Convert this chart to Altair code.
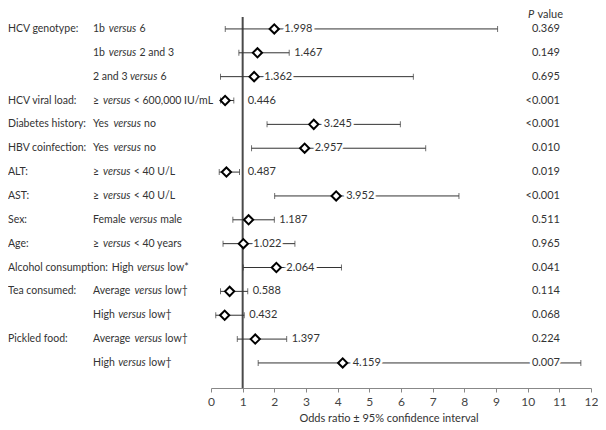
import altair as alt
import pandas as pd

# ---------------- data ----------------
rows = list(range(1, 16))
groups = ["HCV genotype:", "", "", "HCV viral load:", "Diabetes history:",
          "HBV coinfection:", "ALT:", "AST:", "Sex:", "Age:",
          "Alcohol consumption:", "Tea consumed:", "", "Pickled food:", ""]
prefix = ["1b", "1b", "2 and 3", "≥", "Yes", "Yes", "≥", "≥", "Female", "≥",
          "High", "Average", "High", "Average", "High"]
suffix = ["6", "2 and 3", "6", "< 600,000 IU/mL", "no", "no", "< 40 U/L",
          "< 40 U/L", "male", "< 40 years", "low*", "low†", "low†", "low†", "low†"]
odds = [1.998, 1.467, 1.362, 0.446, 3.245, 2.957, 0.487, 3.952, 1.187, 1.022,
        2.064, 0.588, 0.432, 1.397, 4.159]
ci_lo = [0.45, 0.88, 0.30, 0.30, 1.77, 1.28, 0.26, 2.01, 0.69, 0.38,
         1.02, 0.30, 0.15, 0.83, 1.49]
ci_hi = [9.05, 2.47, 6.39, 0.72, 5.98, 6.78, 0.90, 7.83, 2.00, 2.65,
         4.12, 1.16, 1.05, 2.39, 11.68]
pvals = ["0.369", "0.149", "0.695", "<0.001", "<0.001", "0.010", "0.019",
         "<0.001", "0.511", "0.965", "0.041", "0.114", "0.068", "0.224", "0.007"]
x_ticks = list(range(0, 13))

# ---------------- layout ----------------
FONT = "Lato"
FS = 11      # numbers
LFS = 10.5   # left-hand labels
W, H = 380, 371
PPU = W / 12.0  # pixels per x unit
TXT = "#333333"

# approximate Lato advance widths (em)
_w = {' ': .193, ',': .23, '<': .58, '≥': .58, '/': .36, '*': .42, '†': .5, ':': .23,
      'a': .487, 'b': .55, 'c': .46, 'd': .55, 'e': .515, 'f': .32, 'g': .5, 'h': .55,
      'i': .23, 'k': .5, 'l': .23, 'm': .83, 'n': .55, 'o': .55, 'p': .55, 'r': .37,
      's': .42, 't': .35, 'u': .55, 'v': .5, 'y': .5, 'A': .68, 'C': .66, 'F': .53,
      'H': .74, 'I': .28, 'L': .47, 'U': .7, 'V': .68, 'Y': .63}


def tw(s, size=LFS):
    return sum(_w.get(c, .58) for c in s) * size


SUB_X = -118.0      # px, relative to plot left
GROUP_X = -203.0
GAP = 4.0           # px between words
VERSUS_W = tw("versus") - 2.5

df = pd.DataFrame({"row": rows, "group": groups, "pre": prefix, "suf": suffix,
                   "odds": odds, "lo": ci_lo, "hi": ci_hi, "p": pvals})

base_px = []
for g in groups:
    if g == "Alcohol consumption:":
        base_px.append(GROUP_X + tw(g) + GAP + 2.5)
    else:
        base_px.append(SUB_X)
df["pre_x"] = [b / PPU for b in base_px]
df["vs_x"] = [(b + tw(p) + GAP) / PPU for b, p in zip(base_px, prefix)]
df["suf_x"] = [(b + tw(p) + GAP + VERSUS_W + GAP) / PPU for b, p in zip(base_px, prefix)]
df["grp_x"] = GROUP_X / PPU
df["near"] = (df["hi"] - df["odds"]) < 1.25
df["anchor"] = [max(h, 1.0) if n else o for h, o, n in zip(df["hi"], df["odds"], df["near"])]

xs = alt.Scale(domain=[0, 12], nice=False, zero=False)
ys = alt.Scale(domain=[0.5, 16.05], reverse=True, nice=False, zero=False)
AX = alt.Axis(values=x_ticks, title=None, grid=False, format="d",
              labelFont=FONT, labelFontSize=12, labelColor="#444",
              domainColor="#888", tickColor="#888", tickSize=4,
              labelPadding=4, labelFlush=False, labelOverlap=False)


def X(field):
    return alt.X(field, scale=xs, axis=AX)


base = alt.Chart(df)
Y = alt.Y("row:Q", scale=ys, axis=None)

ref = alt.Chart(pd.DataFrame({"x": [1]})).mark_rule(color="#4a4a4a", strokeWidth=2).encode(
    x=X("x:Q"))

ci = base.mark_rule(color="#333", strokeWidth=1).encode(x=X("lo:Q"), x2="hi:Q", y=Y)
cap_lo = base.mark_tick(orient="vertical", size=6, thickness=1, color="#333").encode(
    x=X("lo:Q"), y=Y)
cap_hi = base.mark_tick(orient="vertical", size=6, thickness=1, color="#333").encode(
    x=X("hi:Q"), y=Y)


def or_text(near, dx, halo):
    kw = dict(align="left", baseline="middle", font=FONT, fontSize=FS, dx=dx)
    if halo:
        kw.update(stroke="white", strokeWidth=5, color="white")
    else:
        kw.update(color=TXT)
    return base.transform_filter(alt.datum.near == near).mark_text(**kw).encode(
        x=X("anchor:Q"), y=Y, text=alt.Text("odds:Q", format=".3f"))


p_halo = base.mark_text(align="right", baseline="middle", font=FONT, fontSize=FS,
                        stroke="white", strokeWidth=5, color="white").encode(
    x=alt.value(349), y=Y, text="p:N")
p_txt = base.mark_text(align="right", baseline="middle", font=FONT, fontSize=FS,
                       color=TXT).encode(x=alt.value(349), y=Y, text="p:N")

diam = base.mark_point(shape="diamond", size=85, filled=False, fill="white",
                       fillOpacity=1, stroke="black", strokeWidth=2, opacity=1).encode(
    x=X("odds:Q"), y=Y)

grp = base.transform_filter(alt.datum.group != "").mark_text(
    align="left", baseline="middle", font=FONT, fontSize=LFS, color=TXT).encode(
    x=X("grp_x:Q"), y=Y, text="group:N")
pre_t = base.mark_text(align="left", baseline="middle", font=FONT, fontSize=LFS,
                       color=TXT).encode(x=X("pre_x:Q"), y=Y, text="pre:N")
vs_t = base.mark_text(align="left", baseline="middle", font=FONT, fontSize=LFS,
                      fontStyle="italic", color=TXT).encode(
    x=X("vs_x:Q"), y=Y, text=alt.value("versus"))
suf_t = base.mark_text(align="left", baseline="middle", font=FONT, fontSize=LFS,
                       color=TXT).encode(x=X("suf_x:Q"), y=Y, text="suf:N")

hdr = pd.DataFrame({"a": ["P"], "b": ["value"]})
hdr_p = alt.Chart(hdr).mark_text(align="left", baseline="middle", font=FONT, fontSize=FS,
                                 fontStyle="italic", color=TXT).encode(
    x=alt.value(317), y=alt.value(-2), text="a:N")
hdr_v = alt.Chart(hdr).mark_text(align="right", baseline="middle", font=FONT, fontSize=FS,
                                 color=TXT).encode(
    x=alt.value(352), y=alt.value(-2), text="b:N")

ttl = alt.Chart(pd.DataFrame({"t": ["Odds ratio ± 95% confidence interval"]})).mark_text(
    align="center", baseline="alphabetic", font=FONT, fontSize=FS, color=TXT).encode(
    x=alt.value(178), y=alt.value(H + 34), text="t:N")

chart = alt.layer(
    ref, ci, cap_lo, cap_hi,
    or_text(True, 5, True), or_text(False, 10, True), p_halo,
    diam,
    or_text(True, 5, False), or_text(False, 10, False), p_txt,
    grp, pre_t, vs_t, suf_t, hdr_p, hdr_v, ttl,
).properties(
    width=W, height=H, autosize="none",
    padding={"left": 203, "top": 9, "right": 7, "bottom": 37},
).configure_view(stroke=None)

chart.save("out.html", embed_options={"renderer": "svg", "actions": False})
